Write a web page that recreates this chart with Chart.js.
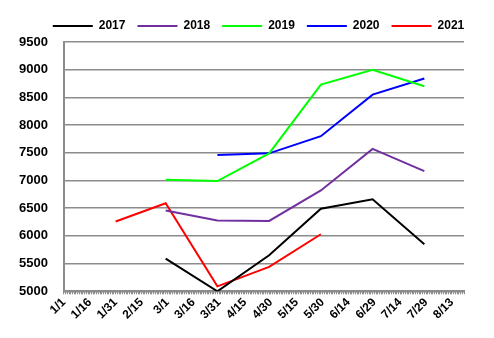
<!DOCTYPE html>
<html>
<head>
<meta charset="utf-8">
<script src="https://cdn.jsdelivr.net/npm/chart.js@4"></script>
<style>
  html, body { margin: 0; padding: 0; background: #fff; }
  #wrap { width: 494px; height: 338px; }
</style>
</head>
<body>
<div id="wrap"><canvas id="price"></canvas></div>
<script>
// x axis tick labels (every 15 days)
var tickLabels = ['1/1','1/16','1/31','2/15','3/1','3/16','3/31','4/15','4/30','5/15','5/30','6/14','6/29','7/14','7/29','8/13'];

var years = ['2017', '2018', '2019', '2020', '2021'];
var colors = ['#000000', '#7030a0', '#00ff00', '#0000ff', '#ff0000'];

var dates2017 = ['3/1','3/31','4/30','5/30','6/29','7/29'];
var values2017 = [5590, 5000, 5650, 6490, 6660, 5850];

var dates2018 = ['3/1','3/31','4/30','5/30','6/29','7/29'];
var values2018 = [6460, 6280, 6270, 6820, 7570, 7170];

var dates2019 = ['3/1','3/31','4/30','5/30','6/29','7/29'];
var values2019 = [7015, 6990, 7490, 8730, 9000, 8700];

var dates2020 = ['3/31','4/30','5/30','6/29','7/29'];
var values2020 = [7460, 7490, 7800, 8550, 8840];

var dates2021 = ['1/31','3/1','3/31','4/30','5/30'];
var values2021 = [6260, 6590, 5090, 5440, 6030];

var monthStart = [0, 31, 59, 90, 120, 151, 181, 212, 243, 273, 304, 334];
function dayOf(s) {
    var p = s.split('/');
    return monthStart[parseInt(p[0]) - 1] + parseInt(p[1]) - 1;
}
function pts(dates, vals) {
    var out = [];
    for (var i = 0; i < dates.length; i++) out.push({x: dayOf(dates[i]), y: vals[i]});
    return out;
}

var allDates = [dates2017, dates2018, dates2019, dates2020, dates2021];
var allValues = [values2017, values2018, values2019, values2020, values2021];
var datasets = [];
for (var i = 0; i < years.length; i++) {
    datasets.push({
        label: years[i],
        data: pts(allDates[i], allValues[i]),
        borderColor: colors[i],
        backgroundColor: colors[i],
        borderWidth: 2,
        pointRadius: 0,
        tension: 0
    });
}

// nudge the legend to the right, like the original
var legendShift = {
    id: 'legendShift',
    afterLayout: function(chart) {
        chart.legend.left += 25;
        chart.legend.right += 25;
    }
};

var gridGray = '#8c8c8c';
var ctx = document.getElementById('price').getContext('2d');
var myChart = new Chart(ctx, {
    type: 'line',
    data: { datasets: datasets },
    plugins: [legendShift],
    options: {
        responsive: true,
        maintainAspectRatio: false,
        animation: false,
        layout: { padding: { left: 3, right: 30, top: 8, bottom: 15 } },
        plugins: {
            legend: {
                position: 'top',
                labels: {
                    usePointStyle: true,
                    pointStyle: 'line',
                    pointStyleWidth: 40,
                    padding: 12,
                    color: '#000',
                    font: { family: 'Liberation Sans', weight: 'bold', size: 12 }
                }
            },
            tooltip: { enabled: false }
        },
        scales: {
            x: {
                type: 'linear',
                min: 0,
                max: 232,
                afterBuildTicks: function(scale) {
                    var t = [];
                    for (var d = 0; d <= 232; d++) t.push({value: d});
                    scale.ticks = t;
                },
                ticks: {
                    autoSkip: false,
                    minRotation: 45,
                    maxRotation: 45,
                    padding: 1,
                    color: '#000',
                    font: { family: 'Liberation Sans', weight: 'bold', size: 12 },
                    callback: function(v) {
                        if (v % 15 === 0 && v / 15 < tickLabels.length) return tickLabels[v / 15];
                        return '';
                    }
                },
                grid: {
                    drawOnChartArea: false,
                    drawTicks: true,
                    tickLength: 3,
                    color: gridGray,
                    lineWidth: 1
                },
                border: { color: gridGray, width: 2 }
            },
            y: {
                min: 5000,
                max: 9500,
                ticks: {
                    stepSize: 500,
                    padding: 16,
                    color: '#000',
                    font: { family: 'Liberation Sans', weight: 'bold', size: 13 },
                    callback: function(v) { return String(v); }
                },
                grid: {
                    color: gridGray,
                    lineWidth: 1.5,
                    drawTicks: false
                },
                border: { color: gridGray, width: 2 }
            }
        }
    }
});
</script>
</body>
</html>
